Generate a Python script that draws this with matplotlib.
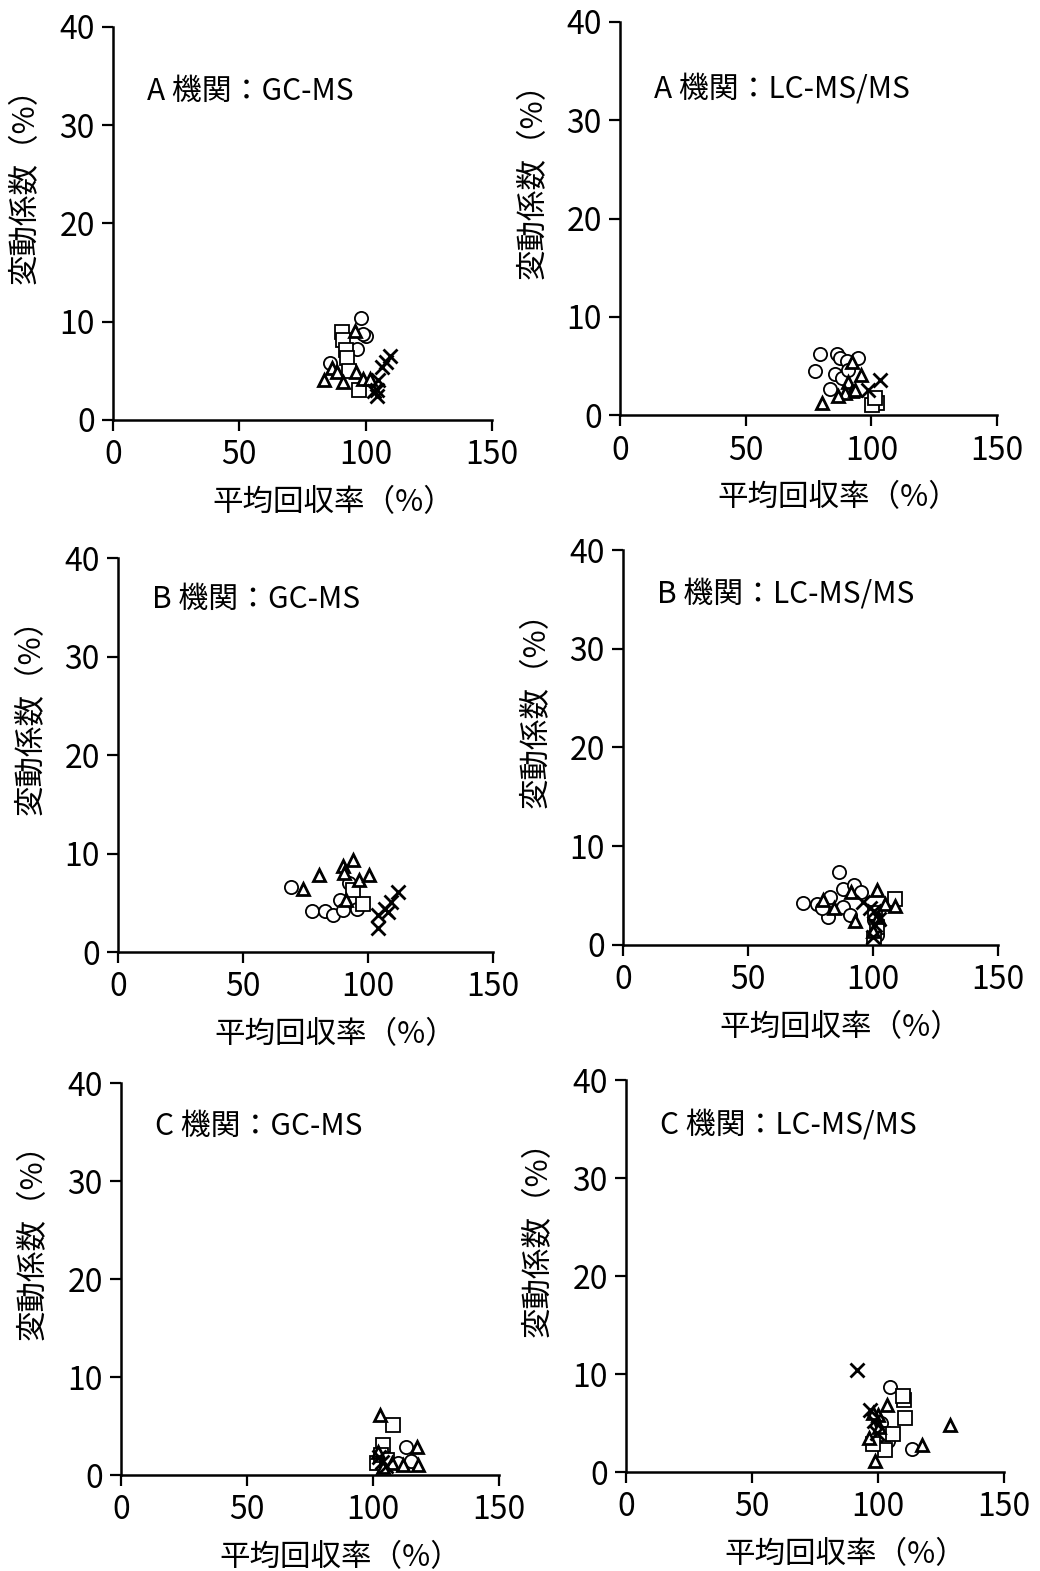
import matplotlib
matplotlib.use("Agg")
import matplotlib.pyplot as plt

plt.rcParams['font.family'] = ['Noto Sans CJK JP', 'DejaVu Sans']

# ---- data: (mean recovery %, CV %) per marker group ----
# A / GC-MS
a_gc_circle_x = [98.0, 100.1, 96.7, 85.9, 99.0]
a_gc_circle_y = [10.4, 8.5, 7.2, 5.8, 8.7]
a_gc_square_x = [90.5, 91.2, 92.2, 92.5, 97.5, 93.5]
a_gc_square_y = [8.9, 8.1, 7.1, 6.3, 3.05, 5.0]
a_gc_tri_x = [95.8, 83.5, 86.5, 88.8, 91.1, 96.2, 99.1, 101.7]
a_gc_tri_y = [9.0, 4.1, 5.3, 4.9, 3.9, 4.9, 4.2, 4.2]
a_gc_x_x = [104.3, 106.3, 108.0, 109.6, 105.0, 103.4, 104.6]
a_gc_x_y = [3.05, 5.4, 5.9, 6.5, 4.1, 2.9, 2.4]

# A / LC-MS/MS
a_lc_circle_x = [79.6, 86.2, 87.5, 94.8, 90.2, 77.6, 85.6, 88.2, 83.6, 90.8]
a_lc_circle_y = [6.2, 6.2, 5.8, 5.8, 5.5, 4.5, 4.2, 3.8, 2.7, 4.6]
a_lc_square_x = [102.1, 100.2, 101.5]
a_lc_square_y = [1.2, 1.0, 1.7]
a_lc_tri_x = [92.4, 95.9, 90.8, 92.2, 89.5, 86.6, 80.5, 93.5]
a_lc_tri_y = [5.4, 4.1, 3.4, 2.4, 2.2, 1.9, 1.2, 2.6]
a_lc_x_x = [103.5, 98.8]
a_lc_x_y = [3.6, 2.5]

# B / GC-MS
b_gc_circle_x = [69.1, 77.5, 82.8, 86.1, 88.8, 89.9, 92.4, 95.7]
b_gc_circle_y = [6.6, 4.2, 4.2, 3.8, 5.3, 4.3, 7.0, 4.4]
b_gc_square_x = [98.1, 94.1]
b_gc_square_y = [4.9, 6.3]
b_gc_tri_x = [74.1, 80.5, 89.9, 94.1, 90.4, 96.4, 100.4, 91.2]
b_gc_tri_y = [6.4, 7.8, 8.7, 9.3, 8.0, 7.3, 7.8, 5.3]
b_gc_x_x = [104.1, 106.8, 109.1, 112.1, 104.1, 108.1]
b_gc_x_y = [3.8, 4.4, 5.1, 6.1, 2.4, 4.1]

# B / LC-MS/MS
b_lc_circle_x = [86.4, 72.1, 77.5, 82.8, 88.1, 92.5, 95.2, 82.1, 88.1, 90.8, 79.5, 100.5, 101.5]
b_lc_circle_y = [7.4, 4.2, 4.1, 4.9, 5.7, 6.1, 5.4, 2.8, 3.8, 3.0, 3.7, 2.5, 1.0]
b_lc_square_x = [108.8, 100.8, 101.8, 100.5]
b_lc_square_y = [4.7, 3.2, 1.8, 0.6]
b_lc_tri_x = [80.1, 84.5, 91.2, 92.8, 101.5, 104.8, 108.8, 102.0, 100.0]
b_lc_tri_y = [4.6, 3.7, 5.4, 2.4, 5.6, 4.1, 3.9, 2.8, 1.4]
b_lc_x_x = [96.1, 98.8, 100.5, 102.5, 101.0, 100.2]
b_lc_x_y = [4.4, 3.7, 3.4, 2.6, 2.0, 0.8]

# C / GC-MS
c_gc_circle_x = [113.0, 103.0, 104.5, 110.0, 115.0]
c_gc_circle_y = [2.9, 1.6, 1.0, 1.2, 1.4]
c_gc_square_x = [108.1, 104.1, 101.5, 103.0, 105.5]
c_gc_square_y = [5.1, 3.06, 1.2, 2.0, 1.5]
c_gc_tri_x = [102.8, 117.3, 102.0, 107.5, 112.0, 118.0, 104.0]
c_gc_tri_y = [6.1, 2.9, 2.3, 1.2, 1.0, 1.0, 0.8]
c_gc_x_x = [102.5, 103.5, 105.0]
c_gc_x_y = [1.8, 1.3, 0.9]

# C / LC-MS/MS
c_lc_circle_x = [104.8, 113.4, 101.0, 104.0]
c_lc_circle_y = [8.7, 2.4, 5.0, 3.2]
c_lc_square_x = [110.3, 110.7, 102.1, 106.1, 102.8, 98.1, 110.0]
c_lc_square_y = [7.3, 5.5, 3.9, 3.9, 2.2, 2.9, 7.8]
c_lc_tri_x = [103.4, 100.1, 128.6, 117.3, 98.8, 96.5, 98.0, 100.5]
c_lc_tri_y = [6.8, 5.8, 4.8, 2.8, 1.1, 3.5, 6.0, 4.6]
c_lc_x_x = [91.5, 96.8, 98.5, 99.5]
c_lc_x_y = [10.4, 6.3, 5.2, 4.0]

panels = [
    ("A 機関：GC-MS", [0.1087, 0.7327, 0.3644, 0.2502], 0.835,
     (a_gc_circle_x, a_gc_circle_y), (a_gc_square_x, a_gc_square_y),
     (a_gc_tri_x, a_gc_tri_y), (a_gc_x_x, a_gc_x_y)),
    ("A 機関：LC-MS/MS", [0.5962, 0.7358, 0.3625, 0.2502], 0.83,
     (a_lc_circle_x, a_lc_circle_y), (a_lc_square_x, a_lc_square_y),
     (a_lc_tri_x, a_lc_tri_y), (a_lc_x_x, a_lc_x_y)),
    ("B 機関：GC-MS", [0.1135, 0.3940, 0.3606, 0.2508], 0.895,
     (b_gc_circle_x, b_gc_circle_y), (b_gc_square_x, b_gc_square_y),
     (b_gc_tri_x, b_gc_tri_y), (b_gc_x_x, b_gc_x_y)),
    ("B 機関：LC-MS/MS", [0.5990, 0.3985, 0.3606, 0.2514], 0.888,
     (b_lc_circle_x, b_lc_circle_y), (b_lc_square_x, b_lc_square_y),
     (b_lc_tri_x, b_lc_tri_y), (b_lc_x_x, b_lc_x_y)),
    ("C 機関：GC-MS", [0.1163, 0.0611, 0.3635, 0.2495], 0.888,
     (c_gc_circle_x, c_gc_circle_y), (c_gc_square_x, c_gc_square_y),
     (c_gc_tri_x, c_gc_tri_y), (c_gc_x_x, c_gc_x_y)),
    ("C 機関：LC-MS/MS", [0.6019, 0.0630, 0.3635, 0.2495], 0.885,
     (c_lc_circle_x, c_lc_circle_y), (c_lc_square_x, c_lc_square_y),
     (c_lc_tri_x, c_lc_tri_y), (c_lc_x_x, c_lc_x_y)),
]

xticks = [0, 50, 100, 150]
yticks = [0, 10, 20, 30, 40]

fig = plt.figure(figsize=(10.4, 15.71), dpi=100)

for title, pos, ty, circ, sq, tri, xs in panels:
    ax = fig.add_axes(pos)
    ax.plot(circ[0], circ[1], 'o', ms=9.5, mfc='white', mec='black', mew=1.3, ls='none')
    ax.plot(sq[0], sq[1], 's', ms=10, mfc='white', mec='black', mew=1.3, ls='none')
    ax.plot(tri[0], tri[1], '^', ms=8.5, mfc='white', mec='black', mew=2.0, ls='none')
    ax.plot(xs[0], xs[1], 'x', ms=9.5, mec='black', mew=2.0, ls='none')

    ax.set_xlim(0, 150)
    ax.set_ylim(0, 40)
    ax.set_xticks(xticks)
    ax.set_yticks(yticks)
    for side in ('top', 'right'):
        ax.spines[side].set_visible(False)
    for side in ('left', 'bottom'):
        ax.spines[side].set_linewidth(1.8)
    ax.tick_params(direction='out', length=8, width=1.6, labelsize=23)
    ax.tick_params(axis='x', pad=6)
    ax.tick_params(axis='y', pad=5)

    ax.set_xlabel("平均回収率（%）", fontsize=22)
    ax.xaxis.set_label_coords(0.58, -0.17)
    ax.set_ylabel("変動係数（%）", fontsize=22)
    ax.yaxis.set_label_coords(-0.19, 0.615)

    ax.text(0.09, ty, title, transform=ax.transAxes, fontsize=21.5,
            ha='left', va='center')

fig.savefig("out.png", dpi=100)
